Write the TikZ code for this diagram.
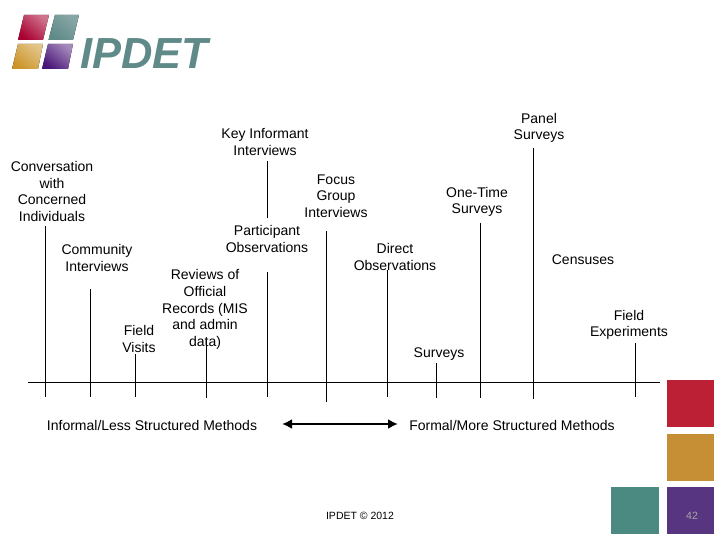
\documentclass[tikz,border=0pt]{standalone}
\usepackage{fontspec}
\setmainfont{Liberation Sans}
\usetikzlibrary{arrows.meta}
\definecolor{ipdetred}{HTML}{BB2035}
\definecolor{ipdetgold}{HTML}{C68E35}
\definecolor{ipdetteal}{HTML}{4A8A80}
\definecolor{ipdetpurple}{HTML}{573580}
\definecolor{logored}{HTML}{A80030}
\definecolor{logoteal}{HTML}{5F8A88}
\definecolor{logogold}{HTML}{CC9428}
\definecolor{logopurple}{HTML}{4A1578}
\begin{document}
\begin{tikzpicture}[x=1pt,y=-1pt]
	\tikzstyle{every node}+=[inner sep=0pt]
	\tikzstyle{method}=[align=center,font=\fontsize{14}{16.7}\selectfont]
	\tikzstyle{stem}=[black,line width=0.8pt]
	\tikzstyle{tile}=[minimum width=47pt,minimum height=47pt,anchor=north west]
	\useasboundingbox (0,0) rectangle (720,540);
	\fill [left color=logored!55!white,middle color=logored,right color=logored,shading angle=-40] (24,15) -- (49,15) -- (43,40) -- (18,40) -- cycle;
	\fill [left color=logoteal!75!white,middle color=logoteal,right color=logoteal,shading angle=-40] (55,15) -- (79,15) -- (73,40) -- (48.5,40) -- cycle;
	\fill [left color=logogold!55!white,middle color=logogold,right color=logogold,shading angle=-40] (18,44) -- (43,44) -- (38,69) -- (12,69) -- cycle;
	\fill [left color=logopurple!50!white,middle color=logopurple,right color=logopurple,shading angle=-40] (48,44) -- (73,44) -- (68,69) -- (42,69) -- cycle;
	\node (logo) [logoteal,anchor=base west,font=\fontsize{43.5}{44}\selectfont\bfseries\itshape] at (80,69) {IPDET};
	\node (conversation) [method] at (52,191.5) {Conversation\\with\\Concerned\\Individuals};
	\node (community) [method] at (97,258) {Community\\Interviews};
	\node (visits) [method] at (139,339) {Field\\Visits};
	\node (records) [method] at (205,309.5) {Reviews of\\Official\\Records (MIS\\and admin\\data)};
	\node (informant) [method] at (265,142) {Key Informant\\Interviews};
	\node (participant) [method] at (267,239) {Participant\\Observations};
	\node (focus) [method] at (336,196) {Focus\\Group\\Interviews};
	\node (direct) [method] at (395,257) {Direct\\Observations};
	\node (surveys) [method] at (439,354.5) {Surveys};
	\node (onetime) [method] at (477,202) {One-Time\\Surveys};
	\node (panel) [method] at (539,128) {Panel\\Surveys};
	\node (censuses) [method] at (583,260) {Censuses};
	\node (experiments) [method] at (629,325) {Field\\Experiments};
	\node (informal) [method] at (152,425) {Informal/Less Structured Methods};
	\node (formal) [method] at (512,425) {Formal/More Structured Methods};
	\coordinate (axisl) at (28,382);
	\coordinate (axisr) at (660,382);
	\draw [stem] (axisl) -- (axisr);
	\coordinate (conversationt) at (45,226);
	\coordinate (conversationb) at (45,397);
	\draw [stem] (conversationt) -- (conversationb);
	\coordinate (communityt) at (90,289);
	\coordinate (communityb) at (90,397);
	\draw [stem] (communityt) -- (communityb);
	\coordinate (visitst) at (135,354);
	\coordinate (visitsb) at (135,397);
	\draw [stem] (visitst) -- (visitsb);
	\coordinate (recordst) at (206,340);
	\coordinate (recordsb) at (206,398);
	\draw [stem] (recordst) -- (recordsb);
	\coordinate (informantt) at (267,161);
	\coordinate (informantb) at (267,218);
	\draw [stem] (informantt) -- (informantb);
	\coordinate (participantt) at (267,272);
	\coordinate (participantb) at (267,397);
	\draw [stem] (participantt) -- (participantb);
	\coordinate (focust) at (326,231);
	\coordinate (focusb) at (326,402);
	\draw [stem] (focust) -- (focusb);
	\coordinate (directt) at (387,270);
	\coordinate (directb) at (387,397);
	\draw [stem] (directt) -- (directb);
	\coordinate (surveyst) at (436,363);
	\coordinate (surveysb) at (436,398);
	\draw [stem] (surveyst) -- (surveysb);
	\coordinate (onetimet) at (480,223);
	\coordinate (onetimeb) at (480,398);
	\draw [stem] (onetimet) -- (onetimeb);
	\coordinate (panelt) at (533,148);
	\coordinate (panelb) at (533,399);
	\draw [stem] (panelt) -- (panelb);
	\coordinate (experimentst) at (635,343);
	\coordinate (experimentsb) at (635,397);
	\draw [stem] (experimentst) -- (experimentsb);
	\coordinate (arrowl) at (282,424);
	\coordinate (arrowr) at (398,424);
	\draw [black,line width=2pt,{Latex[length=10pt,width=10pt]}-{Latex[length=10pt,width=10pt]}] (arrowl) -- (arrowr);
	\node (redtile) [tile,fill=ipdetred] at (667,380) {};
	\node (goldtile) [tile,fill=ipdetgold] at (667,434) {};
	\node (tealtile) [tile,fill=ipdetteal,minimum width=48pt] at (611,487) {};
	\node (purpletile) [tile,fill=ipdetpurple] at (667,487) {};
	\node (copyright) [font=\fontsize{10.5}{12}\selectfont] at (360,516) {IPDET © 2012};
	\node (page) [black!35!white,font=\fontsize{10.5}{12}\selectfont] at (692,516) {42};
\end{tikzpicture}
\end{document}
